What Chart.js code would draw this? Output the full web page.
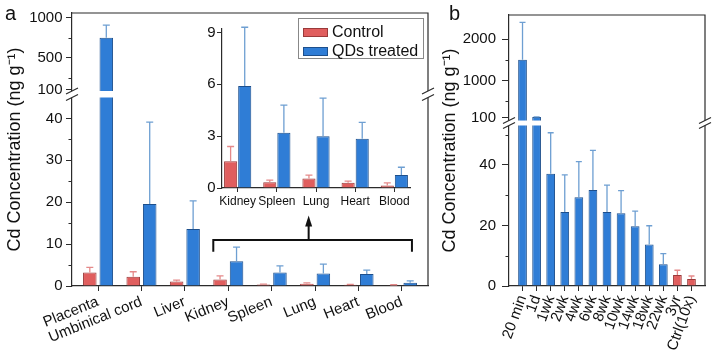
<!DOCTYPE html>
<html>
<head>
<meta charset="utf-8">
<script src="https://cdn.jsdelivr.net/npm/chart.js@4.4.1/dist/chart.umd.min.js"></script>
<style>
  body { margin: 0; background: #fff; }
  #fig { position: relative; width: 712px; height: 359px; overflow: hidden; font-family: Arial, "Liberation Sans", sans-serif; }
  #fig canvas { position: absolute; }
  .tag { position: absolute; font-size: 20px; line-height: 20px; color: #111; }
</style>
</head>
<body>
<div id="fig">
  <canvas id="organChart" width="440" height="359" style="left:0;top:0"></canvas>
  <canvas id="insetChart" width="238" height="200" style="left:190px;top:15px"></canvas>
  <canvas id="timeChart" width="277" height="359" style="left:435px;top:0"></canvas>
  <div class="tag" style="left:5px;top:3px">a</div>
  <div class="tag" style="left:449px;top:3px">b</div>
</div>
<script>
// panel a: Cd in fetal organs
const organs = ['Placenta', 'Umbinical cord', 'Liver', 'Kidney', 'Spleen', 'Lung', 'Heart', 'Blood'];
const controlMean = [3.2, 2.2, 1.1, 1.55, 0.33, 0.55, 0.3, 0.15];
const controlSd = [1.25, 1.2, 0.3, 0.85, 0.12, 0.2, 0.1, 0.15];
const qdsMean = [750, 19.6, 13.6, 5.9, 3.2, 3.0, 2.85, 0.75];
const qdsSd = [158, 19.5, 6.7, 3.4, 1.6, 2.2, 0.95, 0.45];
const organTicks = [0, 10, 20, 30, 40, 100, 500, 1000];
const organMinor = [5, 15, 25, 35, 250, 750];
const insetFrom = 3; // inset shows Kidney..Blood
const insetTicks = [0, 3, 6, 9];

// panel b: Cd over time
const timePoints = ['20 min', '1d', '1wk', '2wk', '4wk', '6wk', '8wk', '10wk', '14wk', '18wk', '22wk', '3yr', 'Ctrl(10x)'];
const timeMean = [1500, 120, 37.1, 24.4, 29.3, 31.7, 24.4, 24.0, 19.7, 13.7, 7.2, 3.6, 2.3];
const timeSd = [900, 8, 13.5, 12.3, 11.8, 13.1, 8.9, 7.5, 5.0, 6.2, 3.5, 1.6, 1.0];
const timeGroup = ['qd', 'qd', 'qd', 'qd', 'qd', 'qd', 'qd', 'qd', 'qd', 'qd', 'qd', 'ctrl', 'ctrl'];
const timeTicks = [0, 20, 40, 100, 1000, 2000];
const timeMinor = [10, 30, 50, 500, 1500];

const AXIS = '#2b2b2b';
const RED = '#e05e5e', RED_EDGE = '#9a3a3a', RED_ERR = '#e58a8a';
const BLUE = '#2f7dd6', BLUE_EDGE = '#1d4f8c', BLUE_ERR = '#6e9fd2';

Chart.defaults.font.family = 'Arial, "Liberation Sans", sans-serif';
Chart.defaults.font.size = 15;
Chart.defaults.color = '#111';

// category axis with a chosen margin (in categories) at both ends
class PadCategoryScale extends Chart.CategoryScale {
  static id = 'padcat';
  buildTicks() {
    const ticks = super.buildTicks();
    const pad = this.options.pad;
    this._startValue = this.min - pad;
    this._valueRange = this.max - this.min + 2 * pad;
    return ticks;
  }
}

// linear axis in two pieces: segments = [[min, max, fromFrac, toFrac], ...]
class BrokenScale extends Chart.LinearScale {
  static id = 'broken';
  decimalFor(v) {
    const [lo, hi] = this.options.segments;
    if (v <= lo[1]) return lo[2] + (v - lo[0]) / (lo[1] - lo[0]) * (lo[3] - lo[2]);
    if (v >= hi[0]) return hi[2] + (v - hi[0]) / (hi[1] - hi[0]) * (hi[3] - hi[2]);
    return lo[3] + (v - lo[1]) / (hi[0] - lo[1]) * (hi[2] - lo[3]);
  }
  getPixelForValue(v) {
    return v === null || v === undefined ? NaN : this.getPixelForDecimal(this.decimalFor(v));
  }
  gapPixels() {
    const [lo, hi] = this.options.segments;
    return [this.getPixelForDecimal(lo[3]), this.getPixelForDecimal(hi[2])];
  }
}
Chart.register(PadCategoryScale, BrokenScale);

const errorBars = {
  id: 'errorBars',
  afterDatasetsDraw(chart, args, opts) {
    const ctx = chart.ctx;
    ctx.save();
    ctx.lineWidth = 1.3;
    chart.data.datasets.forEach((ds, di) => {
      const meta = chart.getDatasetMeta(di);
      meta.data.forEach((bar, i) => {
        const top = meta.vScale.getPixelForValue(ds.data[i] + ds.sd[i]);
        ctx.strokeStyle = Array.isArray(ds.errColor) ? ds.errColor[i] : ds.errColor;
        ctx.beginPath();
        ctx.moveTo(bar.x, bar.y);
        ctx.lineTo(bar.x, top);
        ctx.moveTo(bar.x - opts.cap / 2, top);
        ctx.lineTo(bar.x + opts.cap / 2, top);
        ctx.stroke();
      });
    });
    ctx.restore();
  }
};

const frame = {
  id: 'frame',
  afterDatasetsDraw(chart) {
    const {ctx, chartArea: a} = chart;
    ctx.save();
    ctx.strokeStyle = AXIS;
    ctx.lineWidth = 1.2;
    ctx.beginPath();
    ctx.moveTo(a.left, a.top);
    ctx.lineTo(a.right, a.top);
    ctx.lineTo(a.right, a.bottom);
    ctx.stroke();
    ctx.restore();
  }
};

const axisBreak = {
  id: 'axisBreak',
  afterDatasetsDraw(chart) {
    const {ctx, chartArea: a} = chart;
    const [y0, y1] = chart.scales.y.gapPixels();
    ctx.save();
    ctx.fillStyle = '#fff';
    ctx.strokeStyle = AXIS;
    ctx.lineWidth = 1.2;
    ctx.fillRect(a.left + 1, y1, a.right - a.left - 2, y0 - y1);
    for (const x of [a.left, a.right]) {
      ctx.beginPath();
      ctx.moveTo(x - 6, y0 + 3);
      ctx.lineTo(x + 6, y0 - 3);
      ctx.lineTo(x + 6, y1 - 3);
      ctx.lineTo(x - 6, y1 + 3);
      ctx.closePath();
      ctx.fill();
      ctx.beginPath();
      ctx.moveTo(x - 6, y0 + 3);
      ctx.lineTo(x + 6, y0 - 3);
      ctx.moveTo(x - 6, y1 + 3);
      ctx.lineTo(x + 6, y1 - 3);
      ctx.stroke();
    }
    ctx.restore();
  }
};

const minorTicks = {
  id: 'minorTicks',
  afterDraw(chart, args, opts) {
    const {ctx, chartArea: a} = chart;
    const y = chart.scales.y;
    ctx.save();
    ctx.strokeStyle = AXIS;
    ctx.lineWidth = 1;
    ctx.beginPath();
    opts.values.forEach(v => {
      const p = Math.round(y.getPixelForValue(v)) + 0.5;
      ctx.moveTo(a.left - 3.5, p);
      ctx.lineTo(a.left, p);
    });
    ctx.stroke();
    ctx.restore();
  }
};

const bracket = {
  id: 'bracket',
  afterDraw(chart, args, opts) {
    const {ctx, scales: {x, y}} = chart;
    const x0 = x.getPixelForTick(opts.from) - 15;
    const x1 = x.getPixelForTick(opts.to) + 10;
    const yb = y.getPixelForValue(opts.level);
    const ye = y.getPixelForValue(opts.foot);
    const yt = y.getPixelForValue(opts.tip);
    const xm = x0 + (x1 - x0) * 0.48;
    ctx.save();
    ctx.strokeStyle = '#111';
    ctx.fillStyle = '#111';
    ctx.lineWidth = 2;
    ctx.beginPath();
    ctx.moveTo(x0, ye);
    ctx.lineTo(x0, yb);
    ctx.lineTo(x1, yb);
    ctx.lineTo(x1, ye);
    ctx.moveTo(xm, yb);
    ctx.lineTo(xm, yt + 8);
    ctx.stroke();
    ctx.beginPath();
    ctx.moveTo(xm, yt);
    ctx.lineTo(xm - 3.5, yt + 11);
    ctx.lineTo(xm + 3.5, yt + 11);
    ctx.closePath();
    ctx.fill();
    ctx.restore();
  }
};

const insetLegend = {
  id: 'insetLegend',
  afterDraw(chart) {
    const ctx = chart.ctx;
    const bw = 125, bh = 40;
    const bx = chart.width - 5 - bw, by = 3;
    ctx.save();
    ctx.fillStyle = '#fff';
    ctx.fillRect(bx, by, bw, bh);
    ctx.strokeStyle = '#888';
    ctx.lineWidth = 1;
    ctx.strokeRect(bx + 0.5, by + 0.5, bw, bh);
    ctx.font = '16px Arial, "Liberation Sans", sans-serif';
    ctx.textBaseline = 'middle';
    chart.data.datasets.forEach((ds, i) => {
      const sy = by + 10 + i * 19;
      ctx.fillStyle = ds.backgroundColor;
      ctx.fillRect(bx + 5, sy, 25, 9);
      ctx.strokeStyle = ds.borderColor;
      ctx.strokeRect(bx + 5.5, sy + 0.5, 24, 8);
      ctx.fillStyle = '#111';
      ctx.fillText(ds.label, bx + 34, sy + 4.5);
    });
    ctx.restore();
  }
};

const yTitle = {display: true, text: 'Cd Concentration (ng g\u207B\u00B9)', font: {size: 18}, color: '#111'};

// panel a main chart
new Chart(document.getElementById('organChart'), {
  type: 'bar',
  data: {
    labels: organs,
    datasets: [
      {label: 'Control', data: controlMean, sd: controlSd, backgroundColor: RED, borderColor: RED_EDGE, errColor: RED_ERR},
      {label: 'QDs treated', data: qdsMean, sd: qdsSd, backgroundColor: BLUE, borderColor: BLUE_EDGE, errColor: BLUE_ERR}
    ]
  },
  options: {
    responsive: false,
    animation: false,
    events: [],
    layout: {padding: {top: 13, right: 12, left: 0, bottom: 0}},
    datasets: {bar: {borderWidth: 1, categoryPercentage: 0.76, barPercentage: 0.82}},
    plugins: {
      legend: {display: false},
      tooltip: {enabled: false},
      errorBars: {cap: 7},
      minorTicks: {values: organMinor},
      bracket: {from: insetFrom, to: organs.length - 1, level: 11, foot: 8.2, tip: 16.8}
    },
    scales: {
      x: {
        type: 'padcat', pad: 0.6, offset: true,
        grid: {offset: false, drawOnChartArea: false, tickLength: 5, color: AXIS},
        border: {color: AXIS, width: 1.2},
        ticks: {autoSkip: false, minRotation: 22, maxRotation: 22, padding: 2},
        afterFit: s => { s.height = 73; }
      },
      y: {
        type: 'broken',
        min: 0, max: 1060,
        segments: [[0, 45, 0, 0.6905], [87, 1060, 0.7143, 1]],
        afterBuildTicks: s => { s.ticks = organTicks.map(v => ({value: v})); },
        ticks: {callback: v => String(v), padding: 3.5},
        grid: {drawOnChartArea: false, tickLength: 6, color: AXIS},
        border: {color: AXIS, width: 1.2},
        title: yTitle,
        afterFit: s => { s.width = 72; }
      }
    }
  },
  plugins: [errorBars, frame, axisBreak, minorTicks, bracket]
});

// panel a inset
new Chart(document.getElementById('insetChart'), {
  type: 'bar',
  data: {
    labels: organs.slice(insetFrom),
    datasets: [
      {label: 'Control', data: controlMean.slice(insetFrom), sd: controlSd.slice(insetFrom), backgroundColor: RED, borderColor: RED_EDGE, errColor: RED_ERR},
      {label: 'QDs treated', data: qdsMean.slice(insetFrom), sd: qdsSd.slice(insetFrom), backgroundColor: BLUE, borderColor: BLUE_EDGE, errColor: BLUE_ERR}
    ]
  },
  options: {
    responsive: false,
    animation: false,
    events: [],
    layout: {padding: {top: 14, right: 18, left: 0, bottom: 0}},
    datasets: {bar: {borderWidth: 1, categoryPercentage: 0.72, barPercentage: 0.93}},
    plugins: {
      legend: {display: false},
      tooltip: {enabled: false},
      errorBars: {cap: 7}
    },
    scales: {
      x: {
        type: 'padcat', pad: 0.4, offset: true,
        grid: {offset: false, drawOnChartArea: false, tickLength: 4, color: AXIS},
        border: {color: AXIS, width: 1.2},
        ticks: {autoSkip: false, maxRotation: 0, padding: 2, font: {size: 12}},
        afterFit: s => { s.height = 27; }
      },
      y: {
        min: 0, max: 9.2,
        afterBuildTicks: s => { s.ticks = insetTicks.map(v => ({value: v})); },
        ticks: {padding: 1.5},
        grid: {drawOnChartArea: false, tickLength: 5, color: AXIS},
        border: {color: AXIS, width: 1.2},
        afterFit: s => { s.width = 32; }
      }
    }
  },
  plugins: [errorBars, insetLegend]
});

// panel b
new Chart(document.getElementById('timeChart'), {
  type: 'bar',
  data: {
    labels: timePoints,
    datasets: [{
      label: 'Cd',
      data: timeMean,
      sd: timeSd,
      backgroundColor: timeGroup.map(g => g === 'ctrl' ? RED : BLUE),
      borderColor: timeGroup.map(g => g === 'ctrl' ? RED_EDGE : BLUE_EDGE),
      errColor: timeGroup.map(g => g === 'ctrl' ? RED_ERR : BLUE_ERR)
    }]
  },
  options: {
    responsive: false,
    animation: false,
    events: [],
    layout: {padding: {top: 13, right: 7, left: 0, bottom: 0}},
    datasets: {bar: {borderWidth: 1, categoryPercentage: 0.62, barPercentage: 1}},
    plugins: {
      legend: {display: false},
      tooltip: {enabled: false},
      errorBars: {cap: 6},
      minorTicks: {values: timeMinor}
    },
    scales: {
      x: {
        type: 'padcat', pad: 0.96, offset: true,
        grid: {offset: false, drawOnChartArea: false, tickLength: 5, color: AXIS},
        border: {color: AXIS, width: 1.2},
        ticks: {autoSkip: false, minRotation: 70, maxRotation: 70, padding: 2},
        afterFit: s => { s.height = 73; }
      },
      y: {
        type: 'broken',
        min: 0, max: 2580,
        segments: [[0, 53, 0, 0.5923], [38, 2580, 0.6106, 1]],
        afterBuildTicks: s => { s.ticks = timeTicks.map(v => ({value: v})); },
        ticks: {callback: v => String(v), padding: 6},
        grid: {drawOnChartArea: false, tickLength: 7, color: AXIS},
        border: {color: AXIS, width: 1.2},
        title: yTitle,
        afterFit: s => { s.width = 74; }
      }
    }
  },
  plugins: [errorBars, frame, axisBreak, minorTicks]
});
</script>
</body>
</html>
